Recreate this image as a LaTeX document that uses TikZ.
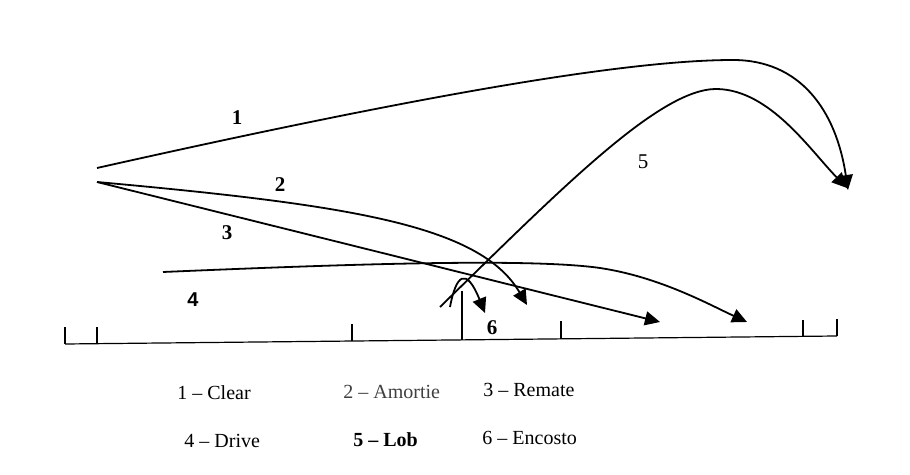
\documentclass[tikz,border=0pt]{standalone}
\usepackage{fontspec}
\setmainfont{Liberation Serif}
\newfontfamily\arialfont{Liberation Sans}
\usetikzlibrary{arrows.meta}
\begin{document}
\begin{tikzpicture}[x=0.5pt,y=-0.5pt,
  shot/.style={line width=0.9pt, -{Triangle[length=7.5pt,width=7pt]}},
  plain/.style={line width=0.9pt},
  tickmark/.style={line width=0.6pt},
  lbl/.style={font=\bfseries\fontsize{10.5}{12}\selectfont, inner sep=0pt},
  leg/.style={font=\fontsize{10}{12}\selectfont, anchor=west, inner sep=0pt}]
\useasboundingbox[fill=white] (0,0) rectangle (910,475);
% start / end points
\coordinate (s1) at (97,168);
\coordinate (s2) at (97,182);
\coordinate (e1) at (848,190);
\coordinate (e2) at (527,305);
\coordinate (e3) at (660,322);
\coordinate (s4) at (163,272);
\coordinate (e4) at (747,322);
\coordinate (s5) at (440,307);
\coordinate (e5) at (847,188);
\coordinate (s6) at (450,307);
\coordinate (e6) at (485,313);
% court baseline and ticks
\coordinate (bl) at (65,344);
\coordinate (br) at (837,336);
\draw[tickmark] (bl) -- (br);
\foreach \x/\yb/\yt in {65/344/327, 97/343.7/327, 352/341/324, 462/339.9/291, 561/338.9/321, 803/336.4/320, 837/336/319}
  \draw[tickmark] (\x,\yb) -- (\x,\yt);
% shots
\draw[shot] (s1) .. controls (400,100) and (620,60) .. (733,60)
               .. controls (800,60) and (836,110) .. (e1);
\draw[shot] (s2) .. controls (350,205) and (480,225) .. (e2);
\draw[shot] (s2) -- (e3);
\draw[shot] (s4) .. controls (350,264) and (530,258) .. (600,268)
               .. controls (660,277) and (710,305) .. (e4);
\draw[shot] (s5) .. controls (560,190) and (660,88) .. (717,89)
               .. controls (770,90) and (810,150) .. (e5);
\draw[shot] (s6) .. controls (456,275) and (466,266) .. (e6);
% labels
\node[lbl] (n1) at (237,118) {1};
\node[lbl] (n2) at (280,185) {2};
\node[lbl] (n3) at (227,233) {3};
\node[lbl, font=\arialfont\bfseries\fontsize{10}{12}\selectfont] (n4) at (193,300) {4};
\node[lbl, font=\fontsize{10.5}{12}\selectfont] (n5) at (643,162) {5};
\node[lbl] (n6) at (492,328) {6};
% legend
\node[leg] (l1) at (177,393) {1 – Clear};
\node[leg, text=black!75] (l2) at (343,392) {2 – Amortie};
\node[leg] (l3) at (483,390) {3 – Remate};
\node[leg] (l4) at (184,441) {4 – Drive};
\node[leg, font=\bfseries\fontsize{10}{12}\selectfont] (l5) at (353,440) {5 – Lob};
\node[leg] (l6) at (482,438) {6 – Encosto};
\end{tikzpicture}
\end{document}
